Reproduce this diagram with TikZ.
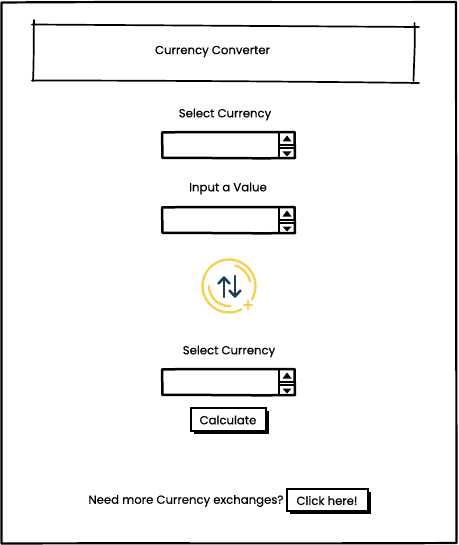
\documentclass[tikz,border=0pt]{standalone}
\usepackage{fontspec}
\newfontfamily\sketchfont[RawFeature={embolden=0.35}]{Poppins}
\setmainfont{Poppins}
\definecolor{ringyellow}{HTML}{F7D154}
\definecolor{arrownavy}{HTML}{1D3D56}
\tikzset{
  x=1pt,y=-1pt,
  sketch/.style={draw=black,line width=1.7pt,line cap=round},
  heavy/.style={draw=black,line width=2.5pt,line cap=round,line join=round},
  label/.style={font=\sketchfont\fontsize{11.7}{13}\selectfont,inner sep=0pt,text=black},
  ring/.style={draw=ringyellow,line width=2.4pt,line cap=round},
  swaparrow/.style={draw=arrownavy,line width=2.5pt,line cap=round,line join=round},
  pics/spinbox/.style={code={
    \draw[heavy] (0,0.5) .. controls (40,-0.5) and (90,0.5) .. (132.5,0) -- (133,26) .. controls (90,26.8) and (40,25.5) .. (0.5,26) -- cycle;
    \draw[sketch] (117,0) -- (117,26);
    \draw[sketch] (117,13) -- (133,13);
    \draw[sketch] (117,16) -- (133,16);
    \fill (120.5,9.5) -- (125,3.5) -- (129.5,9.5) -- cycle;
    \fill (120.5,19.5) -- (129.5,19.5) -- (125,24.5) -- cycle;
  }},
  pics/shadowbutton/.style n args={2}{code={
    \fill[black] (2.5,2.5) rectangle (#1+2.5,#2+2.5);
    \draw[draw=black,line width=1.6pt,fill=white] (0,0) rectangle (#1,#2);
  }}
}
\begin{document}
\begin{tikzpicture}
\useasboundingbox (0,0) rectangle (458,545);
\fill[white] (0,0) rectangle (458,545);
% outer frame
\draw[heavy,line width=2.2pt] (1.5,2.5) .. controls (150,1.5) and (300,2.5) .. (456,2) -- (456.5,543) .. controls (300,543.8) and (150,543) .. (1.5,543.5) -- cycle;
% header box
\draw[sketch] (32,24.5) -- (419,27);
\draw[sketch] (32,80.5) .. controls (150,80.5) and (300,81.5) .. (419,83);
\draw[sketch] (34,20) .. controls (33.5,40) and (34,60) .. (33,81);
\draw[sketch] (414.5,23) .. controls (415.5,40) and (414,60) .. (413.5,81);
\node[label] (title) at (212.5,51.5) {Currency Converter};
% first selector
\node[label] (sel1) at (225,114.5) {Select Currency};
\pic (box1) at (162,132) {spinbox};
% input
\node[label] (input) at (228,188.5) {Input a Value};
\pic (box2) at (162,207) {spinbox};
% swap icon
\coordinate (iconc) at (229,286);
\draw[ring] (iconc) ++(62:26.5) arc (62:390:26.5);
\draw[ring] (iconc) ++(-73:21.5) arc (-73:-12:21.5);
\draw[ring] (iconc) ++(86:20) arc (86:180:20);
\draw[ring] (244,305) -- (252,305);
\draw[ring] (248,301) -- (248,309);
\draw[swaparrow] (224,297) -- (224,278);
\draw[swaparrow] (218.5,283.5) -- (224,277.5) -- (229.5,283.5);
\draw[swaparrow] (235,276) -- (235,296);
\draw[swaparrow] (229.5,290.5) -- (235,296.5) -- (240.5,290.5);
% second selector
\node[label] (sel2) at (229,351.5) {Select Currency};
\pic (box3) at (162,369) {spinbox};
\pic (calcbtn) at (191,408) {shadowbutton={75}{23}};
\node[label] (calc) at (228,420) {Calculate};
% footer
\node[label] (need) at (186,501) {Need more Currency exchanges?};
\pic (clickbtn) at (287,489) {shadowbutton={81}{22}};
\node[label] (click) at (327,500.5) {Click here!};
\end{tikzpicture}
\end{document}
